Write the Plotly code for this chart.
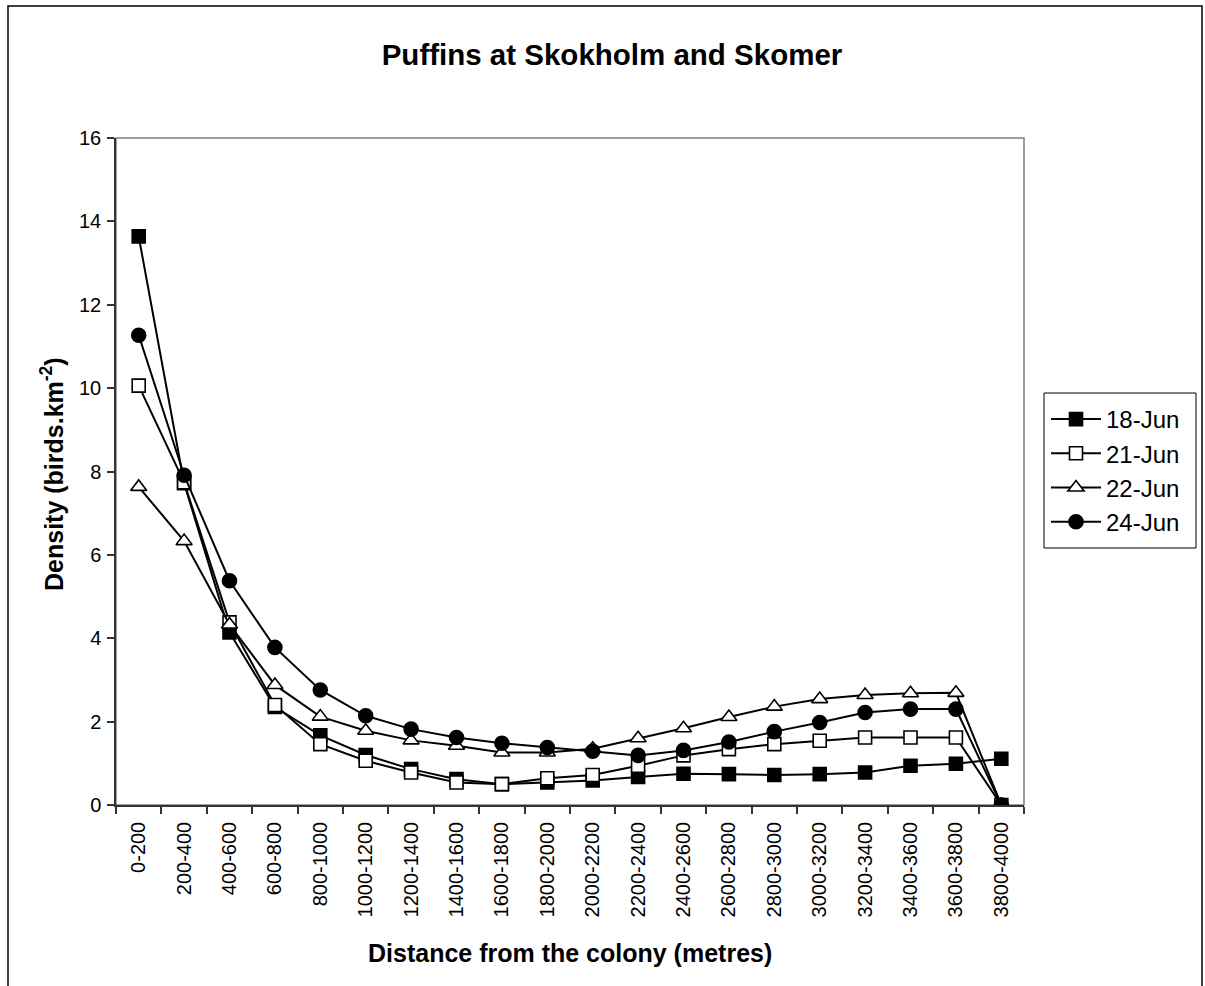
import plotly.graph_objects as go

categories = ["0-200", "200-400", "400-600", "600-800", "800-1000", "1000-1200",
              "1200-1400", "1400-1600", "1600-1800", "1800-2000", "2000-2200",
              "2200-2400", "2400-2600", "2600-2800", "2800-3000", "3000-3200",
              "3200-3400", "3400-3600", "3600-3800", "3800-4000"]

jun18 = [13.64, 7.72, 4.14, 2.35, 1.67, 1.20, 0.86, 0.62, 0.50, 0.54, 0.59,
         0.67, 0.75, 0.74, 0.72, 0.74, 0.78, 0.94, 0.99, 1.11]
jun21 = [10.06, 7.74, 4.38, 2.40, 1.46, 1.06, 0.78, 0.54, 0.50, 0.64, 0.72,
         0.94, 1.19, 1.34, 1.46, 1.54, 1.62, 1.62, 1.62, 0.0]
jun22 = [7.63, 6.33, 4.33, 2.88, 2.12, 1.78, 1.55, 1.42, 1.26, 1.26, 1.35,
         1.60, 1.84, 2.11, 2.36, 2.54, 2.64, 2.68, 2.69, 0.0]
jun24 = [11.27, 7.91, 5.38, 3.78, 2.76, 2.14, 1.82, 1.62, 1.48, 1.38, 1.29,
         1.19, 1.31, 1.51, 1.76, 1.98, 2.22, 2.30, 2.30, 0.0]

y_ticks = [0, 2, 4, 6, 8, 10, 12, 14, 16]

series = [
    ("18-Jun", jun18, "square", "black", 13),
    ("21-Jun", jun21, "square", "white", 13),
    ("22-Jun", jun22, "triangle-up", "white", 14),
    ("24-Jun", jun24, "circle", "black", 14),
]

fig = go.Figure()
for name, vals, sym, fill, sz in series:
    fig.add_trace(go.Scatter(
        x=categories, y=vals, name=name, mode="lines+markers",
        line=dict(color="black", width=2),
        marker=dict(symbol=sym, size=sz, color=fill,
                    line=dict(color="black", width=1.6)),
    ))

W, H = 1205, 986
L, R, T, B = 116, 1024, 138, 805
pw, ph = R - L, B - T

def px(xp):
    return (xp - L) / pw

def py(yp):
    return (B - yp) / ph

fig.update_layout(
    width=W, height=H,
    margin=dict(l=L, r=W - R, t=T, b=H - B),
    paper_bgcolor="white", plot_bgcolor="white",
    font=dict(family="Arial, Liberation Sans, sans-serif", color="black", size=20),
    title=dict(text="<b>Puffins at Skokholm and Skomer</b>",
               x=612 / W, xref="container",
               y=1 - 55 / H, yref="container", xanchor="center", yanchor="middle",
               font=dict(size=29.5, color="black")),
    showlegend=True,
    legend=dict(x=px(1046), y=py(397), xanchor="left", yanchor="top",
                borderwidth=0, bgcolor="rgba(0,0,0,0)",
                font=dict(size=24), itemwidth=50, tracegroupgap=0),
    xaxis=dict(type="category", range=[-0.5, 19.5], showgrid=False,
               showline=True, linecolor="#333333", linewidth=1.5,
               ticks="outside", tickson="boundaries", ticklen=7,
               tickcolor="#333333", tickwidth=1.5, tickangle=-90,
               ticklabelstandoff=7,
               tickfont=dict(size=20), zeroline=False),
    yaxis=dict(range=[0, 16], tickvals=y_ticks, showgrid=False,
               showline=True, linecolor="#333333", linewidth=1.5,
               ticks="outside", ticklen=7, tickcolor="#333333", tickwidth=1.5,
               ticklabelstandoff=2,
               tickfont=dict(size=20), zeroline=False),
    shapes=[
        dict(type="rect", xref="paper", yref="paper", x0=0, x1=1, y0=0, y1=1,
             line=dict(color="#808080", width=1.5), layer="below"),
        dict(type="rect", xref="paper", yref="paper",
             x0=px(8), x1=px(1202), y0=py(1010), y1=py(6),
             line=dict(color="black", width=1.5), layer="below"),
        dict(type="rect", xref="paper", yref="paper",
             x0=px(1044), x1=px(1196), y0=py(548), y1=py(393),
             line=dict(color="black", width=1), layer="below"),
    ],
    annotations=[
        dict(text="<b>Distance from the colony (metres)</b>", xref="paper", yref="paper",
             x=0.5, y=py(953), xanchor="center", yanchor="middle",
             showarrow=False, font=dict(size=25)),
        dict(text="<b>Density (birds.km<sup>-2</sup>)</b>", xref="paper", yref="paper",
             x=px(52), y=py(474), xanchor="center", yanchor="middle",
             textangle=-90, showarrow=False, font=dict(size=25)),
    ],
)

fig.write_html("out.html", config={"displayModeBar": False},
               post_script="document.body.style.margin='0px';document.body.style.overflow='hidden';")
